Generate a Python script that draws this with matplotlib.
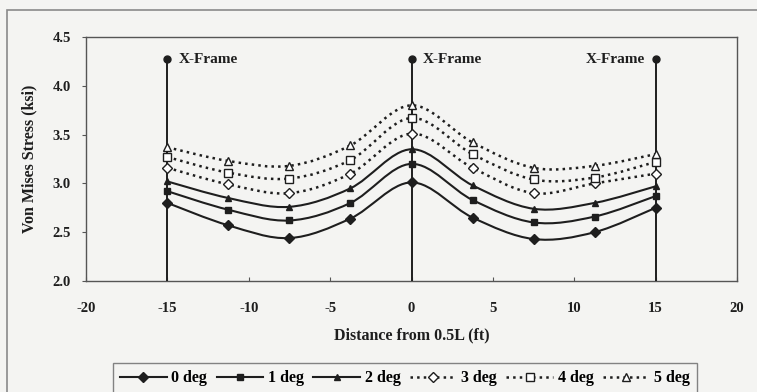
import numpy as np
import matplotlib
matplotlib.use("Agg")
import matplotlib.pyplot as plt
from matplotlib.path import Path
from matplotlib.patches import PathPatch, Rectangle
from matplotlib.lines import Line2D

# ---------------- data ----------------
distance = [-15, -11.25, -7.5, -3.75, 0, 3.75, 7.5, 11.25, 15]
series_labels = ["0 deg", "1 deg", "2 deg", "3 deg", "4 deg", "5 deg"]
stress_0deg = [2.80, 2.57, 2.44, 2.64, 3.01, 2.65, 2.43, 2.50, 2.75]
stress_1deg = [2.92, 2.73, 2.62, 2.80, 3.20, 2.83, 2.60, 2.66, 2.87]
stress_2deg = [3.02, 2.85, 2.76, 2.95, 3.35, 2.98, 2.74, 2.80, 2.97]
stress_3deg = [3.16, 2.99, 2.90, 3.10, 3.51, 3.16, 2.90, 3.00, 3.10]
stress_4deg = [3.27, 3.11, 3.05, 3.24, 3.67, 3.30, 3.04, 3.06, 3.22]
stress_5deg = [3.37, 3.23, 3.18, 3.39, 3.80, 3.42, 3.16, 3.18, 3.30]
xframe_pos = [-15, 0, 15]
xframe_top = 4.27
xframe_label = "X-Frame"
x_ticks = [-20, -15, -10, -5, 0, 5, 10, 15, 20]
y_ticks = [2.0, 2.5, 3.0, 3.5, 4.0, 4.5]
x_label = "Distance from 0.5L (ft)"
y_label = "Von Mises Stress (ksi)"

series = [stress_0deg, stress_1deg, stress_2deg, stress_3deg, stress_4deg, stress_5deg]
markers = ["D", "s", "^", "D", "s", "^"]
msizes = [5.5, 4.5, 5, 5.5, 6, 6]
filled = [True, True, True, False, False, False]
styles = ["-", "-", "-", ":", ":", ":"]

INK = "#1e1e1e"
BG = "#f4f4f2"
FONT = "Liberation Serif"

plt.rcParams["font.family"] = [FONT, "DejaVu Serif"]
plt.rcParams["font.weight"] = "bold"

fig = plt.figure(figsize=(7.57, 3.92), dpi=100, facecolor=BG)
ax = fig.add_axes([86 / 757, 1 - 281 / 392, (737 - 86) / 757, (281 - 37) / 392])
ax.set_facecolor(BG)

# outer chart-area frame (partially cropped like the reference)
fig.patches.append(Rectangle((7 / 757, -0.05), 1.2, (392 - 10) / 392 + 0.05,
                             transform=fig.transFigure, fill=False,
                             edgecolor="#8a8a8a", linewidth=1.2, zorder=0))


def smooth_path(xs, ys):
    """Excel-like smoothed line: cubic Bezier segments through the data points."""
    pts = np.column_stack([xs, ys]).astype(float)
    n = len(pts)
    verts = [pts[0]]
    codes = [Path.MOVETO]
    for i in range(n - 1):
        p0 = pts[i - 1] if i > 0 else pts[i]
        p1 = pts[i]
        p2 = pts[i + 1]
        p3 = pts[i + 2] if i + 2 < n else pts[i + 1]
        c1 = p1 + (p2 - p0) / 6.0
        c2 = p2 - (p3 - p1) / 6.0
        verts += [c1, c2, p2]
        codes += [Path.CURVE4] * 3
    return Path(verts, codes)


# X-frame markers
for xp in xframe_pos:
    ax.plot([xp, xp], [2.0, xframe_top], color=INK, lw=1.4, zorder=4)
    ax.plot([xp], [xframe_top], marker="o", ms=5, color=INK, zorder=5, clip_on=False)
for xp in xframe_pos:
    if xp == max(xframe_pos):
        ax.annotate(xframe_label, (xp, xframe_top), xytext=(-8, 0),
                    textcoords="offset points", ha="right", va="center",
                    fontsize=11, fontweight="bold", color=INK)
    else:
        ax.annotate(xframe_label, (xp, xframe_top), xytext=(8, 0),
                    textcoords="offset points", ha="left", va="center",
                    fontsize=11, fontweight="bold", color=INK)

handles = []
for vals, lab, mk, ms, fl, ls in zip(series, series_labels, markers, msizes, filled, styles):
    lw = 1.5 if ls == "-" else 1.8
    patch = PathPatch(smooth_path(distance, vals), facecolor="none", edgecolor=INK,
                      lw=lw, linestyle=ls, zorder=3)
    ax.add_patch(patch)
    ax.plot(distance, vals, linestyle="none", marker=mk, ms=ms,
            markerfacecolor=INK if fl else "white", markeredgecolor=INK,
            markeredgewidth=1.0, zorder=6)
    handles.append(Line2D([], [], color=INK, lw=lw, linestyle=ls, marker=mk, ms=ms - 0.5,
                          markerfacecolor=INK if fl else "white",
                          markeredgecolor=INK, markeredgewidth=1.0, label=lab))

ax.set_xlim(-20, 20)
ax.set_ylim(2.0, 4.5)
ax.set_xticks(x_ticks)
ax.set_yticks(y_ticks)
ax.set_xticklabels([f"{t:d}" for t in x_ticks])
ax.set_yticklabels([f"{t:.1f}" for t in y_ticks])
for sp in ax.spines.values():
    sp.set_color("#555555")
    sp.set_linewidth(1.0)
ax.tick_params(axis="x", direction="in", length=3, pad=15, labelsize=10.5, colors="#555555",
               labelcolor=INK)
ax.tick_params(axis="y", direction="out", length=3, pad=8, labelsize=10.5, colors="#555555",
               labelcolor=INK)
for lbl in ax.get_xticklabels() + ax.get_yticklabels():
    lbl.set_fontweight("bold")

ax.set_xlabel(x_label, fontsize=11.5, fontweight="bold", color=INK, labelpad=9)
ax.set_ylabel(y_label, fontsize=11.5, fontweight="bold", color=INK, labelpad=11)

leg = fig.legend(handles=handles, loc="upper left",
                 bbox_to_anchor=(113 / 757, 1 - 363 / 392), ncol=6, frameon=True,
                 fancybox=False, handlelength=2.9, handletextpad=0.3,
                 columnspacing=0.6, borderpad=0.45, borderaxespad=0,
                 prop={"weight": "bold", "size": 11.5})
leg.get_frame().set_edgecolor("#666666")
leg.get_frame().set_facecolor(BG)
leg.get_frame().set_linewidth(1.0)

fig.savefig("out.png", dpi=100, facecolor=BG)
